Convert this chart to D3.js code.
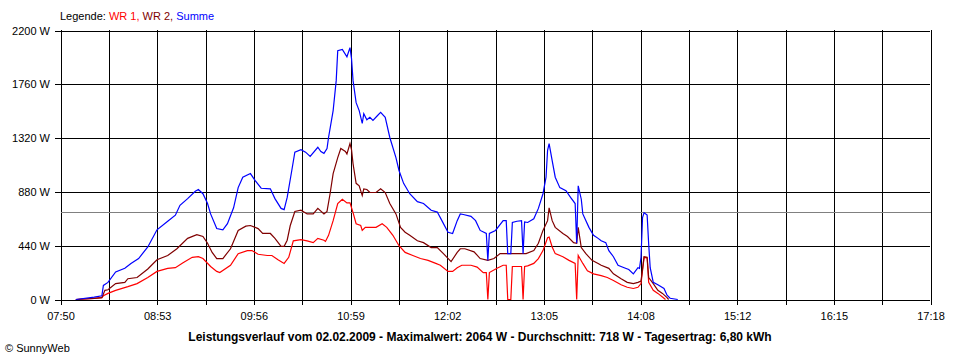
<!DOCTYPE html>
<html>
<head>
<meta charset="utf-8">
<script src="https://cdn.jsdelivr.net/npm/d3@7"></script>
<style>
  body { margin: 0; background: #fff; }
  svg { display: block; font-family: "Liberation Sans", Arial, sans-serif; }
</style>
</head>
<body>
<svg width="960" height="360"></svg>
<script>
// x tick labels (every second grid line carries a label)
const timeLabels = ["07:50", "08:53", "09:56", "10:59", "12:02", "13:05", "14:08", "15:12", "16:15", "17:18"];
const powerTicks = [0, 440, 880, 1320, 1760, 2200];
const average = 718;

// [time, W]
const wr1 = [
  ["08:00", 0], ["08:12", 10], ["08:17", 15], ["08:18", 30], ["08:21", 50], ["08:26", 75], ["08:34", 105],
  ["08:40", 130], ["08:47", 180], ["08:53", 230], ["09:00", 255], ["09:05", 260], ["09:10", 300], ["09:16", 345],
  ["09:20", 350], ["09:23", 335], ["09:28", 270], ["09:32", 230], ["09:34", 220], ["09:41", 280], ["09:46", 375],
  ["09:52", 400], ["09:55", 400], ["09:59", 370], ["10:05", 360], ["10:08", 360], ["10:12", 325], ["10:16", 295],
  ["10:19", 345], ["10:22", 480], ["10:27", 490], ["10:31", 480], ["10:35", 465], ["10:38", 500], ["10:42", 485],
  ["10:43", 475], ["10:45", 525], ["10:48", 645], ["10:51", 785], ["10:54", 820], ["10:57", 790], ["10:59", 790],
  ["11:01", 710], ["11:03", 620], ["11:06", 605], ["11:07", 565], ["11:09", 590], ["11:12", 590], ["11:16", 590],
  ["11:20", 620], ["11:23", 590], ["11:27", 525], ["11:31", 440], ["11:35", 385], ["11:40", 360], ["11:45", 335],
  ["11:50", 320], ["11:55", 295], ["11:58", 280], ["12:03", 230], ["12:06", 230], ["12:09", 260], ["12:12", 280],
  ["12:18", 280], ["12:22", 265], ["12:26", 220], ["12:28", 220], ["12:29", 0], ["12:30", 220], ["12:35", 255],
  ["12:39", 280], ["12:41", 280], ["12:42", 0], ["12:44", 0], ["12:45", 270], ["12:51", 270], ["12:52", 0],
  ["12:53", 270], ["12:55", 275], ["12:59", 295], ["13:02", 335], ["13:05", 400], ["13:08", 505], ["13:09", 510],
  ["13:11", 430], ["13:13", 375], ["13:18", 350], ["13:22", 320], ["13:26", 295], ["13:27", 0], ["13:28", 360],
  ["13:31", 295], ["13:34", 235], ["13:38", 210], ["13:43", 195], ["13:47", 180], ["13:51", 155], ["13:56", 120],
  ["14:00", 100], ["14:04", 90], ["14:07", 100], ["14:09", 130], ["14:11", 345], ["14:13", 340], ["14:14", 140],
  ["14:17", 75], ["14:20", 50], ["14:23", 20], ["14:25", 0]
];

const wr2 = [
  ["08:00", 0], ["08:12", 10], ["08:17", 15], ["08:19", 75], ["08:21", 80], ["08:26", 130], ["08:32", 140],
  ["08:34", 170], ["08:40", 180], ["08:47", 250], ["08:53", 325], ["09:00", 360], ["09:06", 415], ["09:13", 500],
  ["09:19", 530], ["09:23", 515], ["09:26", 460], ["09:29", 385], ["09:32", 335], ["09:36", 335], ["09:41", 415],
  ["09:46", 565], ["09:51", 600], ["09:54", 605], ["09:59", 580], ["10:02", 540], ["10:07", 540], ["10:10", 500],
  ["10:14", 435], ["10:16", 435], ["10:18", 485], ["10:20", 605], ["10:23", 720], ["10:27", 730], ["10:31", 700],
  ["10:35", 700], ["10:38", 745], ["10:42", 700], ["10:44", 720], ["10:46", 865], ["10:48", 1030], ["10:51", 1160],
  ["10:53", 1235], ["10:56", 1210], ["10:57", 1190], ["10:59", 1275], ["11:00", 1225], ["11:01", 1110], ["11:03", 950],
  ["11:05", 930], ["11:07", 850], ["11:08", 905], ["11:10", 900], ["11:12", 875], ["11:16", 875], ["11:19", 905],
  ["11:22", 875], ["11:25", 785], ["11:29", 700], ["11:32", 590], ["11:35", 550], ["11:38", 525], ["11:43", 480],
  ["11:47", 465], ["11:52", 425], ["11:56", 425], ["12:00", 375], ["12:05", 310], ["12:09", 385], ["12:11", 415],
  ["12:14", 415], ["12:20", 390], ["12:24", 335], ["12:29", 320], ["12:33", 335], ["12:37", 375], ["12:42", 375],
  ["12:48", 375], ["12:54", 375], ["12:59", 400], ["13:02", 460], ["13:05", 565], ["13:08", 645], ["13:09", 750],
  ["13:11", 645], ["13:13", 590], ["13:18", 540], ["13:21", 515], ["13:25", 465], ["13:27", 460], ["13:28", 590],
  ["13:30", 425], ["13:33", 375], ["13:37", 320], ["13:41", 295], ["13:43", 280], ["13:48", 255], ["13:51", 210],
  ["13:56", 170], ["14:00", 140], ["14:04", 130], ["14:07", 140], ["14:09", 150], ["14:11", 350], ["14:13", 345],
  ["14:14", 180], ["14:17", 130], ["14:20", 75], ["14:23", 50], ["14:26", 15], ["14:27", 0]
];

const summe = [
  ["08:00", 0], ["08:12", 20], ["08:17", 30], ["08:18", 115], ["08:21", 140], ["08:26", 225], ["08:32", 255],
  ["08:36", 295], ["08:41", 335], ["08:47", 430], ["08:53", 570], ["09:00", 640], ["09:05", 690], ["09:08", 770],
  ["09:13", 825], ["09:18", 885], ["09:20", 900], ["09:23", 865], ["09:26", 785], ["09:28", 700], ["09:32", 580],
  ["09:36", 570], ["09:39", 620], ["09:43", 750], ["09:46", 915], ["09:49", 1000], ["09:54", 1030], ["09:57", 975],
  ["10:01", 910], ["10:07", 905], ["10:10", 825], ["10:14", 745], ["10:16", 735], ["10:18", 835], ["10:21", 1055],
  ["10:23", 1205], ["10:27", 1225], ["10:30", 1205], ["10:33", 1170], ["10:38", 1245], ["10:40", 1210], ["10:42", 1195],
  ["10:44", 1235], ["10:45", 1325], ["10:48", 1545], ["10:50", 1790], ["10:51", 2035], ["10:54", 2045], ["10:57", 1985],
  ["10:59", 2060], ["11:00", 1970], ["11:01", 1790], ["11:03", 1610], ["11:05", 1545], ["11:07", 1440], ["11:08", 1520],
  ["11:10", 1470], ["11:12", 1490], ["11:14", 1465], ["11:17", 1505], ["11:19", 1530], ["11:22", 1490], ["11:25", 1325],
  ["11:29", 1160], ["11:31", 1055], ["11:34", 950], ["11:38", 865], ["11:43", 800], ["11:47", 785], ["11:52", 730],
  ["11:56", 715], ["11:59", 645], ["12:03", 550], ["12:06", 540], ["12:09", 645], ["12:11", 700], ["12:13", 695],
  ["12:18", 680], ["12:21", 645], ["12:24", 565], ["12:28", 540], ["12:29", 320], ["12:30", 540], ["12:34", 565],
  ["12:39", 645], ["12:41", 645], ["12:42", 375], ["12:44", 375], ["12:45", 630], ["12:48", 640], ["12:51", 645],
  ["12:52", 375], ["12:53", 635], ["12:55", 630], ["12:59", 660], ["13:02", 745], ["13:05", 865], ["13:07", 1000],
  ["13:08", 1220], ["13:09", 1275], ["13:11", 1135], ["13:13", 1000], ["13:16", 915], ["13:20", 890], ["13:23", 835],
  ["13:26", 785], ["13:27", 460], ["13:28", 930], ["13:30", 820], ["13:31", 700], ["13:35", 590], ["13:38", 525],
  ["13:41", 500], ["13:43", 480], ["13:46", 465], ["13:48", 400], ["13:51", 350], ["13:54", 280], ["13:58", 260],
  ["14:01", 245], ["14:04", 210], ["14:07", 260], ["14:08", 255], ["14:09", 345], ["14:10", 670], ["14:11", 710],
  ["14:13", 690], ["14:14", 455], ["14:15", 260], ["14:17", 140], ["14:20", 120], ["14:24", 90], ["14:26", 35],
  ["14:28", 10], ["14:33", 0]
];

const svg = d3.select("svg");
const parse = d3.timeParse("%H:%M");
const t0 = parse(timeLabels[0]);
const t1 = parse(timeLabels[timeLabels.length - 1]);

const x = d3.scaleTime().domain([t0, t1]).range([60.5, 930.5]);
const y = d3.scaleLinear().domain([0, 2200]).range([299.5, 30.5]);

// 18 equal grid steps, labels on every second one
const gridTimes = d3.range(19).map(i => new Date(+t0 + i * (t1 - t0) / 18));

svg.append("g")
  .attr("transform", "translate(0,305)")
  .call(d3.axisBottom(x)
    .tickValues(gridTimes)
    .tickSize(-275)
    .tickSizeOuter(0)
    .tickPadding(7)
    .tickFormat((d, i) => i % 2 === 0 ? timeLabels[i / 2] : ""));

svg.append("g")
  .attr("transform", "translate(55,0)")
  .call(d3.axisLeft(y)
    .tickValues(powerTicks)
    .tickSize(-875)
    .tickSizeOuter(0)
    .tickPadding(5)
    .tickFormat(d => d + " W"));

svg.selectAll(".domain").remove();
svg.selectAll(".tick line").attr("stroke", "#000").attr("shape-rendering", "crispEdges");
svg.selectAll(".tick text").attr("fill", "#000").style("font-size", "11px");

// daily average line
svg.append("line")
  .attr("x1", x(t0)).attr("x2", x(t1))
  .attr("y1", Math.round(y(average)) + 0.5).attr("y2", Math.round(y(average)) + 0.5)
  .attr("stroke", "#808080")
  .attr("shape-rendering", "crispEdges");

const line = d3.line()
  .x(d => x(parse(d[0])))
  .y(d => y(d[1]));

const series = [
  { data: wr1, color: "#ff0000" },
  { data: wr2, color: "#800000" },
  { data: summe, color: "#0000ff" }
];

svg.append("g")
  .selectAll("path")
  .data(series)
  .join("path")
  .attr("d", d => line(d.data))
  .attr("fill", "none")
  .attr("stroke", d => d.color)
  .attr("stroke-width", 1.2)
  .attr("stroke-linejoin", "miter");

// legend
const legend = svg.append("text")
  .attr("x", 60)
  .attr("y", 20)
  .style("font-size", "11px");
legend.append("tspan").attr("fill", "#000").text("Legende: ");
legend.append("tspan").attr("fill", "#ff0000").text("WR 1, ");
legend.append("tspan").attr("fill", "#800000").text("WR 2, ");
legend.append("tspan").attr("fill", "#0000ff").text("Summe");

svg.append("text")
  .attr("x", 480)
  .attr("y", 341)
  .attr("text-anchor", "middle")
  .style("font-size", "12px")
  .style("font-weight", "bold")
  .text("Leistungsverlauf vom 02.02.2009 - Maximalwert: 2064 W - Durchschnitt: 718 W - Tagesertrag: 6,80 kWh");

svg.append("text")
  .attr("x", 5)
  .attr("y", 352)
  .style("font-size", "11px")
  .text("© SunnyWeb");
</script>
</body>
</html>
